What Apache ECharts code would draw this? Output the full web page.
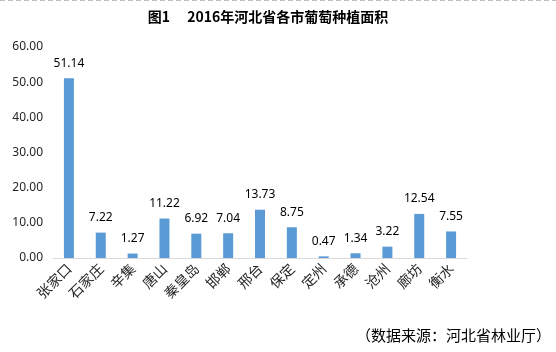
<!DOCTYPE html>
<html>
<head>
<meta charset="utf-8">
<style>
  html, body { margin: 0; padding: 0; background: #fff; }
  #chart { width: 556px; height: 352px; }
</style>
<script src="https://cdn.jsdelivr.net/npm/echarts@6/dist/echarts.min.js"></script>
</head>
<body>
<div id="chart"></div>
<script>
const cities = ['张家口', '石家庄', '辛集', '唐山', '秦皇岛', '邯郸', '邢台', '保定', '定州', '承德', '沧州', '廊坊', '衡水']
const areas = [51.14, 7.22, 1.27, 11.22, 6.92, 7.04, 13.73, 8.75, 0.47, 1.34, 3.22, 12.54, 7.55]
const yTicks = [0, 10, 20, 30, 40, 50, 60]

const chart = echarts.init(document.getElementById('chart'))
const option = {
  animation: false,
  textStyle: { fontFamily: '"Noto Sans", "Noto Sans CJK SC", sans-serif' },
  title: {
    text: '图1\u2003 2016年河北省各市葡萄种植面积',
    left: 263,
    textAlign: 'center',
    top: 5,
    textStyle: { fontSize: 14, fontWeight: 'bold', color: '#000', fontFamily: '"Noto Sans CJK SC", sans-serif' }
  },
  graphic: [
    {
      type: 'line',
      shape: { x1: 0, y1: 0.5, x2: 556, y2: 0.5 },
      style: { stroke: '#bfbfbf', lineWidth: 1, lineDash: [5, 3] }
    },
    {
      type: 'text',
      right: 5,
      top: 328,
      style: { text: '（数据来源：河北省林业厅）', fill: '#000', font: '15px "Noto Sans CJK SC", sans-serif' }
    }
  ],
  grid: { left: 53, right: 89, top: 47, bottom: 94 },
  xAxis: {
    type: 'category',
    data: cities,
    axisLine: { lineStyle: { color: '#d9d9d9' } },
    axisTick: { show: false },
    axisLabel: {
      rotate: 45,
      interval: 0,
      fontSize: 14,
      color: '#262626',
      margin: 8,
      fontFamily: '"Noto Sans CJK SC", sans-serif'
    }
  },
  yAxis: {
    type: 'value',
    min: yTicks[0],
    max: yTicks[yTicks.length - 1],
    interval: 10,
    axisLine: { show: false },
    axisTick: { show: false },
    splitLine: { show: false },
    axisLabel: {
      fontSize: 12,
      color: '#262626',
      margin: 10,
      formatter: v => v.toFixed(2)
    }
  },
  series: [
    {
      type: 'bar',
      data: areas,
      barWidth: 10,
      itemStyle: { color: '#5b9bd5' },
      label: {
        show: true,
        position: 'top',
        distance: 9,
        fontSize: 12,
        color: '#000',
        formatter: p => p.value.toFixed(2)
      }
    }
  ]
}
chart.setOption(option)
</script>
</body>
</html>
